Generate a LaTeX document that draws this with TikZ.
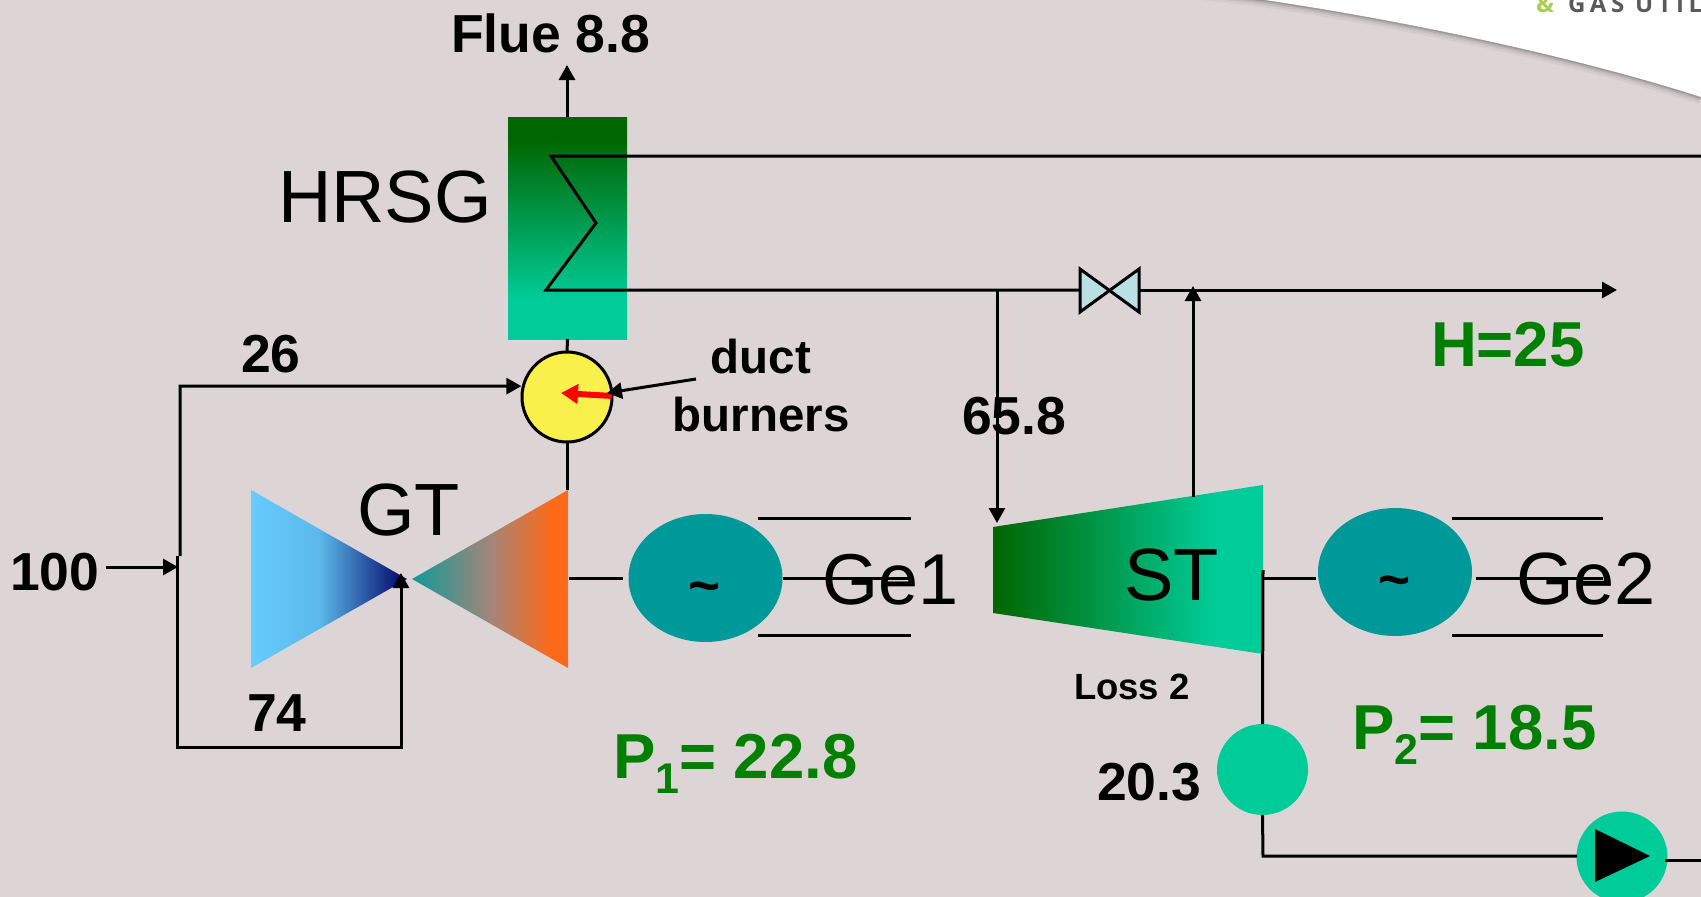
\documentclass[tikz,border=0pt]{standalone}
\usepackage{fontspec}
\setmainfont{Liberation Sans}
\newfontfamily\logofont[LetterSpace=19]{Open Sans}
\usetikzlibrary{arrows.meta,shapes.geometric}
\definecolor{plantbg}{HTML}{DCD4D5}
\definecolor{darkgreen}{HTML}{006600}
\definecolor{seagreen}{HTML}{00CC99}
\definecolor{gentea}{HTML}{009999}
\definecolor{valveblue}{HTML}{B9E0E3}
\definecolor{burneryellow}{HTML}{F9F04C}
\definecolor{valuegreen}{HTML}{008000}
\definecolor{logogreen}{HTML}{A8D050}
\definecolor{logogray}{HTML}{5A5A5A}
\definecolor{blueA}{HTML}{66CCFF}
\definecolor{blueB}{HTML}{5CB8EA}
\definecolor{blueC}{HTML}{000066}
\definecolor{orangeA}{HTML}{129A98}
\definecolor{orangeB}{HTML}{A3857A}
\definecolor{orangeC}{HTML}{FF6A18}
\pgfdeclarehorizontalshading{compfade}{100bp}{color(0bp)=(blueA); color(25bp)=(blueA); color(47bp)=(blueB); color(75bp)=(blueC); color(100bp)=(blueC)}
\pgfdeclarehorizontalshading{turbfade}{100bp}{color(0bp)=(orangeA); color(25bp)=(orangeA); color(50bp)=(orangeB); color(70bp)=(orangeC); color(100bp)=(orangeC)}
\pgfdeclarehorizontalshading{stfade}{100bp}{color(0bp)=(darkgreen); color(25bp)=(darkgreen); color(66bp)=(seagreen); color(100bp)=(seagreen)}
\pgfdeclareverticalshading{hrsgfade}{100bp}{color(0bp)=(seagreen); color(34bp)=(seagreen); color(70bp)=(darkgreen); color(100bp)=(darkgreen)}
\newcommand{\lowidx}[1]{\raisebox{-15pt}{\fontsize{43}{43}\selectfont #1}}
\tikzset{
  pipe/.style={line width=3pt,black},
  flow/.style={pipe,-{Triangle[length=15pt,width=16pt]}},
  label/.style={inner sep=0pt,outer sep=0pt,anchor=base west},
  bigtext/.style={label,font=\fontsize{74}{74}\selectfont},
  value/.style={label,font=\fontsize{53.5}{53.5}\selectfont\bfseries},
  smallvalue/.style={label,font=\fontsize{47.5}{47.5}\selectfont\bfseries},
  power/.style={label,text=valuegreen,font=\fontsize{63.5}{63.5}\selectfont\bfseries},
  generator/.style={ellipse,fill=gentea,inner sep=0pt,outer sep=0pt,minimum width=154pt,minimum height=128pt},
  tilde/.style={inner sep=0pt,font=\fontsize{55}{55}\selectfont\bfseries},
  vessel/.style={circle,fill=seagreen,inner sep=0pt,outer sep=0pt,minimum size=91pt},
  logotext/.style={label,font=\fontsize{24}{24}\selectfont\logofont\bfseries}
}
\begin{document}
\begin{tikzpicture}[x=1pt,y=-1pt]
  \useasboundingbox (0,0) rectangle (1701,897);
  \clip (0,0) rectangle (1701,897);
  \fill [plantbg] (0,0) rectangle (1701,897);
  \foreach \w/\o in {15/0.04,10/0.06,6/0.09,3/0.12}
    \draw [black,line width=\w pt,opacity=\o] (1150,-14) -- (1265,0) .. controls (1400,20) and (1570,55) .. (1701,97);
  \fill [white] (1150,-14) -- (1265,0) .. controls (1400,20) and (1570,55) .. (1701,97) -- (1701,-14) -- cycle;
  \node [logotext,text=logogreen] (logoand) at (1536,12) {\&};
  \node [logotext,text=logogray] (logoname) at (1568,12) {GAS UTIL};

  \node [shade,shading=hrsgfade,inner sep=0pt,outer sep=0pt,minimum width=119pt,minimum height=222pt] (hrsg) at (567.5,228) {};
  \node [circle,draw=black,line width=3pt,fill=burneryellow,inner sep=0pt,outer sep=0pt,minimum size=90pt] (burner) at (567,397) {};
  \node [generator] (gen1) at (705.5,578) {};
  \node [generator] (gen2) at (1395,572) {};
  \node [vessel] (cond) at (1262.5,769.5) {};
  \node [vessel] (pump) at (1622,857) {};

  \shade [shading=compfade] (251,490) -- (251,668) -- (407,579) -- cycle;
  \shade [shading=turbfade] (568,490) -- (568,668) -- (412,579) -- cycle;
  \shade [shading=stfade] (993,527) -- (1263,485) -- (1263,654) -- (993,613) -- cycle;
  \fill [black] (1595,829) -- (1595,882) -- (1650,856) -- cycle;
  \draw [pipe,fill=valveblue] (1080,269) -- (1139,312) -- (1139,269) -- (1080,312) -- cycle;

  \coordinate (flueout) at (567,65);
  \coordinate (coiltop) at (551,156);
  \coordinate (coilmid) at (596,223);
  \coordinate (coilend) at (546,290);
  \coordinate (hpout) at (1701,156);
  \coordinate (valvein) at (1080,290);
  \coordinate (valveout) at (1139,290);
  \coordinate (steamout) at (1617,290);
  \coordinate (stfeed) at (997,290);
  \coordinate (stin) at (997,523);
  \coordinate (stext) at (1193,497);
  \coordinate (sttap) at (1193,286);
  \coordinate (gtin) at (567,490);
  \coordinate (fuelin) at (106,567);
  \coordinate (fueljoin) at (178,567);
  \coordinate (splittop) at (180,556);
  \coordinate (splitup) at (180,386);
  \coordinate (splitlow) at (177,556);
  \coordinate (loopleft) at (177,747);
  \coordinate (loopright) at (401,747);
  \coordinate (looptip) at (401,573);
  \coordinate (shaft1a) at (569,578);
  \coordinate (shaft1b) at (623,578);
  \coordinate (ge1a) at (783,578);
  \coordinate (ge1b) at (911,578);
  \coordinate (shaft2a) at (1263,578);
  \coordinate (shaft2b) at (1316,578);
  \coordinate (ge2a) at (1476,578);
  \coordinate (ge2b) at (1603,578);
  \coordinate (stdrain) at (1263,570);
  \coordinate (drainbend) at (1263,856);
  \coordinate (pumpin) at (1577,856);
  \coordinate (pumpout) at (1665,860);
  \coordinate (pumpend) at (1701,860);
  \coordinate (ductfrom) at (696,379);
  \coordinate (ducttip) at (607,393);
  \coordinate (flamefrom) at (612,396);
  \coordinate (flametip) at (561,393);

  \draw [flow] (hrsg.north -| flueout) -- (flueout);
  \draw [pipe,line join=miter] (hpout) -- (coiltop) -- (coilmid) -- (coilend) -- (valvein);
  \draw [flow] (valveout) -- (steamout);
  \draw [flow] (stfeed) -- (stin);
  \draw [flow] (stext) -- (sttap);
  \draw [pipe] (hrsg.south) -- (burner.north);
  \draw [pipe] (burner.south) -- (gtin);
  \draw [flow] (fuelin) -- (fueljoin);
  \draw [flow,shorten >=2pt] (splittop) -- (splitup) -- (burner.166);
  \draw [flow] (splitlow) -- (loopleft) -- (loopright) -- (looptip);
  \draw [pipe] (shaft1a) -- (shaft1b);
  \draw [pipe] (ge1a) -- (ge1b);
  \draw [pipe] (shaft2a) -- (shaft2b);
  \draw [pipe] (ge2a) -- (ge2b);
  \draw [pipe] (stdrain) -- (cond.north);
  \draw [pipe] (cond.south) -- (drainbend) -- (pumpin);
  \draw [pipe] (pumpout) -- (pumpend);
  \draw [pipe] (758,518) -- (911,518);
  \draw [pipe] (758,635) -- (911,635);
  \draw [pipe] (1452,518) -- (1603,518);
  \draw [pipe] (1452,635) -- (1603,635);
  \draw [red,line width=6pt,-{Triangle[length=17pt,width=19pt]}] (flamefrom) -- (flametip);
  \draw [flow] (ductfrom) -- (ducttip);

  \node [value] (fluelabel) at (451,52) {Flue 8.8};
  \node [bigtext] (hrsglabel) at (278,222) {HRSG};
  \node [bigtext] (gtlabel) at (357,535) {GT};
  \node [bigtext,font=\fontsize{72}{72}\selectfont] (ge1label) at (822,604) {Ge1};
  \node [bigtext] (stlabel) at (1124,600) {ST};
  \node [bigtext] (ge2label) at (1516,604) {Ge2};
  \node [value] (airlabel) at (241,372) {26};
  \node [value] (looplabel) at (247,731) {74};
  \node [value] (inlabel) at (10,590) {100};
  \node [value] (steamlabel) at (962,434) {65.8};
  \node [value] (condlabel) at (1097,800) {20.3};
  \node [smallvalue,anchor=base] (ductlabel) at (761,373) {duct};
  \node [smallvalue,anchor=base] (burnerlabel) at (761,431) {burners};
  \node [label,font=\fontsize{36.5}{36.5}\selectfont\bfseries] (losslabel) at (1074,699) {Loss 2};
  \node [power] (p1label) at (613,778) {P\lowidx{1}= 22.8};
  \node [power] (p2label) at (1352,749) {P\lowidx{2}= 18.5};
  \node [power] (hlabel) at (1431,366) {H=25};
  \node [tilde] (tilde1) at (705,593) {\textasciitilde};
  \node [tilde] (tilde2) at (1395,587) {\textasciitilde};
\end{tikzpicture}
\end{document}
